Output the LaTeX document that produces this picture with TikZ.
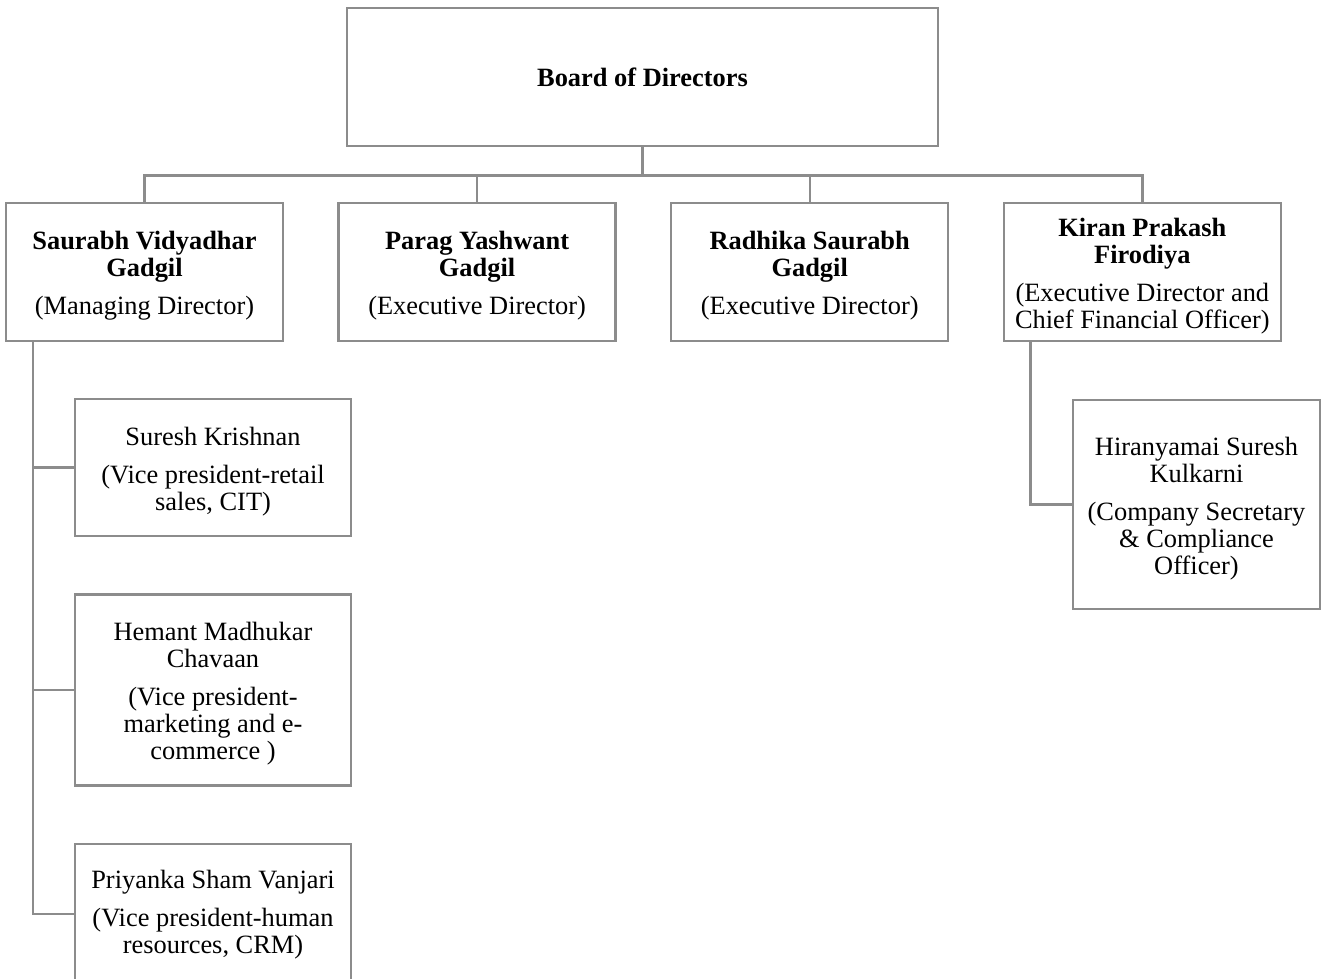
\documentclass[tikz,border=0pt]{standalone}
\usepackage{fontspec}
\setmainfont{Liberation Serif}
\usetikzlibrary{positioning}
\definecolor{linegray}{RGB}{140,140,140}
\newcommand{\tstrut}{\rule{0pt}{13pt}}

\begin{document}
\begin{tikzpicture}[x=0.5pt,y=-0.5pt,node distance=26.6pt,
  main node/.style={rectangle,draw=linegray,line width=1.2pt,align=center,
    inner sep=0pt,font=\fontsize{13.2}{13.5}\selectfont},
  director/.style={main node,minimum width=138.5pt,minimum height=69pt},
  vp/.style={main node,minimum width=138pt},
  conn/.style={draw=linegray,line width=1.2pt}]
  \useasboundingbox (0,0) rectangle (1323,979);

  \node[main node,minimum width=295.5pt,minimum height=69pt] (0) at (642.5,77) {\textbf{Board of Directors}};

  % directors
  \node[director] (1) at (144.5,272) {\tstrut\textbf{Saurabh Vidyadhar}\\\textbf{Gadgil}\\[5.5pt](Managing Director)};
  \node[director] (2) [right=of 1] {\tstrut\textbf{Parag Yashwant}\\\textbf{Gadgil}\\[5.5pt](Executive Director)};
  \node[director] (3) [right=of 2] {\tstrut\textbf{Radhika Saurabh}\\\textbf{Gadgil}\\[5.5pt](Executive Director)};
  \node[director] (4) [right=of 3] {\tstrut\textbf{Kiran Prakash}\\\textbf{Firodiya}\\[5.5pt](Executive Director and\\Chief Financial Officer)};

  % reports
  \node[vp,minimum height=68.5pt] (5) at (213,467.5) {\tstrut Suresh Krishnan\\[5.5pt](Vice president-retail\\sales, CIT)};
  \node[vp,minimum height=95.5pt] (6) [below=28pt of 5] {\tstrut Hemant Madhukar\\Chavaan\\[5.5pt](Vice president-\\marketing and e-\\commerce )};
  \node[vp,minimum height=70pt] (7) [below=28pt of 6] {\tstrut Priyanka Sham Vanjari\\[5.5pt](Vice president-human\\resources, CRM)\rule[-6pt]{0pt}{1pt}};
  \node[main node,minimum width=123.5pt,minimum height=104.5pt] (8) at (1196.5,504.5) {\tstrut Hiranyamai Suresh\\Kulkarni\\[5.5pt](Company Secretary\\\& Compliance\\Officer)};

  \foreach \n in {1,...,4}
    \draw[conn] (0.south) -- ++(0,28.5) -| (\n.north);
  \foreach \n in {5,6,7}
    \draw[conn] (1.south west) ++(28,0) |- (\n.west);
  \draw[conn] (4.south west) ++(28,0) |- (8.west);
\end{tikzpicture}
\end{document}
